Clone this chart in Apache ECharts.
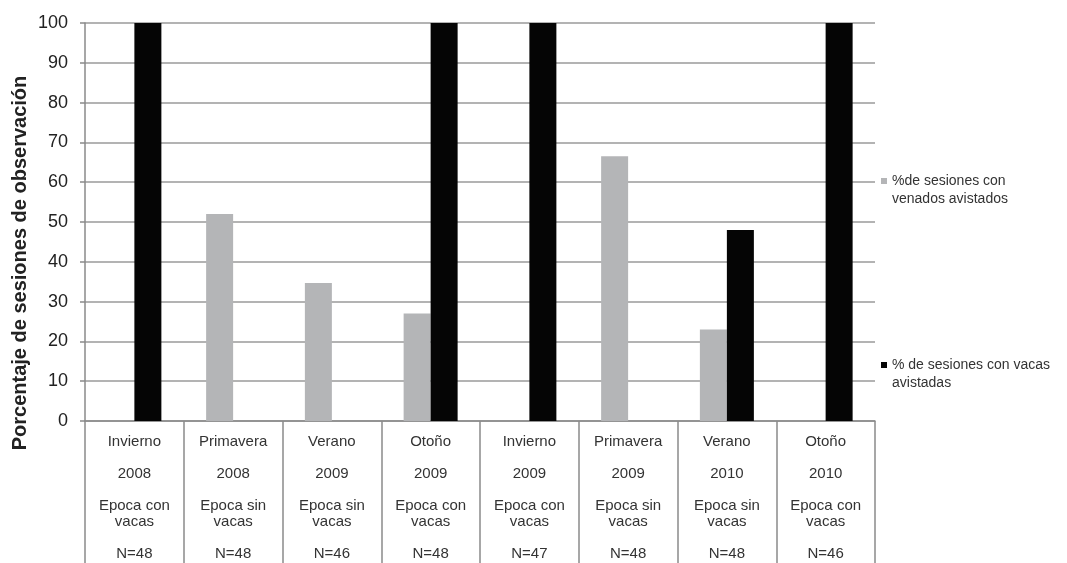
<!DOCTYPE html>
<html>
<head>
<meta charset="utf-8">
<script src="https://cdn.jsdelivr.net/npm/echarts@6/dist/echarts.min.js"></script>
<style>html,body{margin:0;padding:0;background:#fff;}#c{width:1067px;height:563px;}</style>
</head>
<body>
<div id="c"></div>
<script>
const seasons = ['Invierno','Primavera','Verano','Otoño','Invierno','Primavera','Verano','Otoño'];
const years = ['2008','2008','2009','2009','2009','2009','2010','2010'];
const epocas = ['Epoca con\nvacas','Epoca sin\nvacas','Epoca sin\nvacas','Epoca con\nvacas','Epoca con\nvacas','Epoca sin\nvacas','Epoca sin\nvacas','Epoca con\nvacas'];
const nValues = ['N=48','N=48','N=46','N=48','N=47','N=48','N=48','N=46'];
const venados = [null, 52, 34.7, 27, null, 66.5, 23, null];
const vacas = [100, null, null, 100, 100, null, 48, 100];
const serieVenados = '%de sesiones con\nvenados avistados';
const serieVacas = '% de sesiones con vacas\navistadas';
const yTicks = [0,10,20,30,40,50,60,70,80,90,100];

const categories = seasons.map((s,i) => i);
const font = 'Liberation Sans, Arial, sans-serif';

const chart = echarts.init(document.getElementById('c'), null, {renderer:'canvas'});
chart.setOption({
  backgroundColor:'#fff',
  animation:false,
  grid:{left:85, right:192, top:23, bottom:142, containLabel:false},
  legend:[
    {data:[serieVenados], left:876, top:149, orient:'vertical', itemWidth:6, itemHeight:6, itemGap:4,
     icon:'rect', selectedMode:false, formatter:(n)=>'\n'+n,
     textStyle:{fontFamily:font, fontSize:14, color:'#333', lineHeight:18}},
    {data:[serieVacas], left:876, top:333, orient:'vertical', itemWidth:6, itemHeight:6, itemGap:4,
     icon:'rect', selectedMode:false, formatter:(n)=>'\n'+n,
     textStyle:{fontFamily:font, fontSize:14, color:'#333', lineHeight:18}}
  ],
  xAxis:{
    type:'category',
    data:categories,
    axisLine:{show:true, lineStyle:{color:'#8a8a8a', width:1.5}},
    axisTick:{show:true, length:145, lineStyle:{color:'#8a8a8a', width:1.5}},
    axisLabel:{
      interval:0, margin:13,
      fontFamily:font, fontSize:15, color:'#333', lineHeight:16, align:'center',
      formatter:(v)=>{const i=+v; return seasons[i]+'\n\n'+years[i]+'\n\n'+epocas[i]+'\n\n'+nValues[i];}
    }
  },
  yAxis:{
    type:'value', min:0, max:100, interval:10,
    axisLine:{show:true, lineStyle:{color:'#8a8a8a', width:1.5}},
    axisTick:{show:true, length:5, lineStyle:{color:'#8a8a8a', width:1.5}},
    splitLine:{show:true, lineStyle:{color:'#9a9a9a', width:1.5}},
    axisLabel:{margin:17, fontFamily:font, fontSize:18, color:'#222',
      formatter:(v)=> yTicks.indexOf(v)>=0 ? String(v) : ''}
  },
  graphic:[
    {type:'text', x:20, y:263, rotation:Math.PI/2,
     style:{text:'Porcentaje de sesiones de observación', fontFamily:font, fontSize:20, fontWeight:'bold',
            fill:'#222', align:'center', verticalAlign:'middle'}}
  ],
  series:[
    {name:serieVenados, type:'bar', data:venados, barWidth:27, barGap:'0%',
     itemStyle:{color:'#b4b5b7'}},
    {name:serieVacas, type:'bar', data:vacas, barWidth:27, barGap:'0%',
     itemStyle:{color:'#050505'}}
  ]
});
</script>
</body>
</html>
